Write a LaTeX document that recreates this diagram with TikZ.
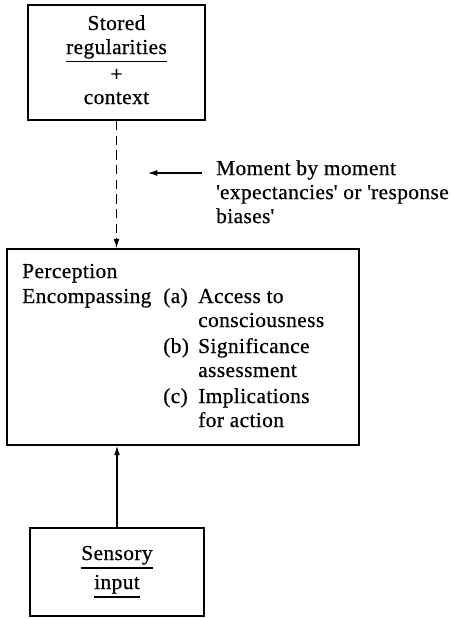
\documentclass[tikz,border=0pt]{standalone}
\usepackage{fontspec}
\setmainfont{Liberation Serif}[LetterSpace=2,FakeBold=0.6]
\usetikzlibrary{arrows.meta,calc}
\newcommand{\sq}{\textquotesingle}
\begin{document}
\begin{tikzpicture}[x=0.75pt,y=-0.75pt,
  box/.style={draw,line width=1.3pt,inner sep=0pt},
  txt/.style={inner sep=0pt,font=\fontsize{16}{18}\selectfont},
  ul/.style={line width=0.8pt},
  conn/.style={line width=0.9pt,-{Latex[length=7pt,width=4.5pt]}},
  dashconn/.style={conn,dash pattern=on 7pt off 4pt}]
\useasboundingbox (0,0) rectangle (452,619);

% boxes
\node[box,minimum width=132.75pt,minimum height=86.25pt] (top) at (116.5,62.5) {};
\node[box,minimum width=264pt,minimum height=147pt] (perc) at (183,347) {};
\node[box,minimum width=130.5pt,minimum height=66pt] (sens) at (117,572) {};

% top box text
\node[txt,anchor=base] (t1) at (116.5,30) {Stored};
\node[txt,anchor=base] (t2) at (116.5,54) {regularities};
\draw[ul] ([yshift=-5.5pt]t2.base west) -- ([yshift=-5.5pt]t2.base east);
\node[txt,anchor=base] (t3) at (116.5,81) {+};
\node[txt,anchor=base] (t4) at (116.5,104) {context};

% sensory box text
\node[txt,anchor=base] (s1) at (117,560) {Sensory};
\draw[ul] ([yshift=-6pt]s1.base west) -- ([yshift=-6pt]s1.base east);
\node[txt,anchor=base] (s2) at (117,589) {input};
\draw[ul] ([yshift=-6pt]s2.base west) -- ([yshift=-6pt]s2.base east);

% perception box text
\node[txt,anchor=base west] (p1) at (22,278) {Perception};
\node[txt,anchor=base west] (p2) at (22,303) {Encompassing};
\node[txt,anchor=base west] (la) at (163,303) {(a)};
\node[txt,anchor=base west] (a1) at (198,303) {Access to};
\node[txt,anchor=base west] (a2) at (198,327) {consciousness};
\node[txt,anchor=base west] (lb) at (163,353) {(b)};
\node[txt,anchor=base west] (b1) at (198,353) {Significance};
\node[txt,anchor=base west] (b2) at (198,377) {assessment};
\node[txt,anchor=base west] (lc) at (163,403) {(c)};
\node[txt,anchor=base west] (c1) at (198,403) {Implications};
\node[txt,anchor=base west] (c2) at (198,427) {for action};

% side label
\node[txt,anchor=north east,align=left] (mom) at (449,160)
  {Moment by moment\\\sq expectancies\sq{} or \sq response\\biases\sq};
\coordinate (tail) at ($(mom.north west)+(-14,13)$);
\coordinate (head) at ($(tail)+(-54,0)$);

% connectors
\draw[dashconn] (top.south) -- (top.south |- perc.north);
\draw[conn] (sens.north) -- (sens.north |- perc.south);
\draw[conn] (tail) -- (head);
\end{tikzpicture}
\end{document}
